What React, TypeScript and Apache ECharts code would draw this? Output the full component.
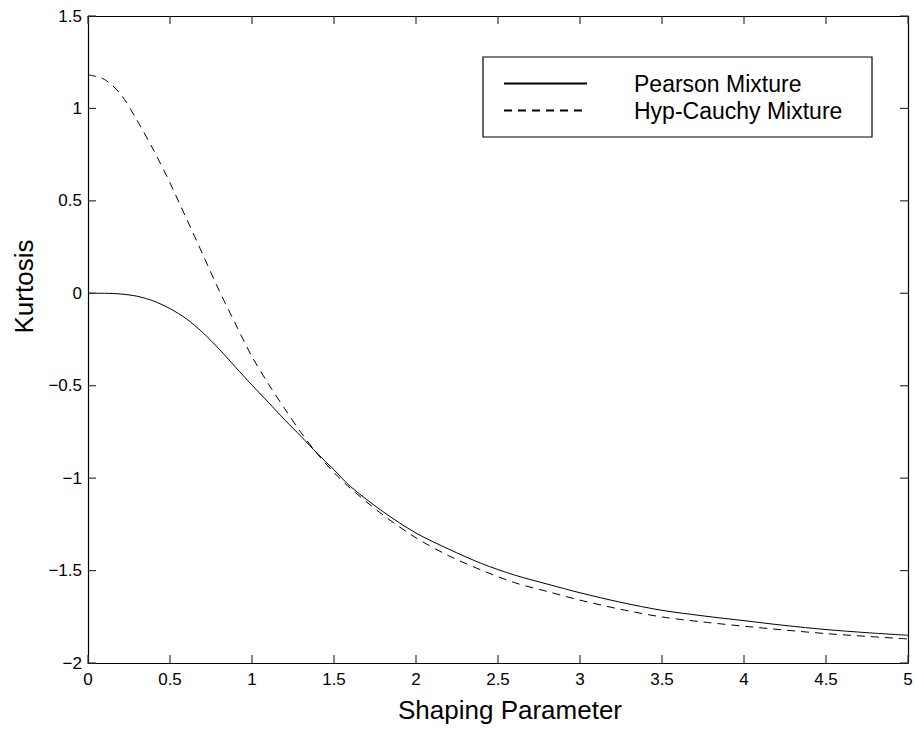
import React, { useEffect, useRef } from "react";
import * as echarts from "echarts";

const xValues = [0, 0.1, 0.2, 0.3, 0.4, 0.5, 0.6, 0.7, 0.8, 0.9, 1.0, 1.1, 1.2, 1.3, 1.4, 1.5, 1.6, 1.8, 2.0, 2.2, 2.4, 2.6, 2.8, 3.0, 3.25, 3.5, 3.75, 4.0, 4.25, 4.5, 4.75, 5.0];
const pearsonValues = [0, 0, -0.004, -0.016, -0.042, -0.083, -0.138, -0.213, -0.302, -0.4, -0.497, -0.59, -0.685, -0.775, -0.868, -0.955, -1.045, -1.182, -1.297, -1.384, -1.462, -1.524, -1.573, -1.62, -1.672, -1.715, -1.745, -1.771, -1.797, -1.819, -1.836, -1.85];
const hypCauchyValues = [1.182, 1.157, 1.076, 0.934, 0.774, 0.597, 0.405, 0.21, 0.014, -0.167, -0.343, -0.49, -0.625, -0.755, -0.87, -0.97, -1.055, -1.2, -1.323, -1.42, -1.498, -1.565, -1.613, -1.66, -1.71, -1.751, -1.778, -1.801, -1.822, -1.841, -1.856, -1.87];
const xTicks = [0, 0.5, 1, 1.5, 2, 2.5, 3, 3.5, 4, 4.5, 5];
const yTicks = [-2, -1.5, -1, -0.5, 0, 0.5, 1, 1.5];
const seriesNames = ["Pearson Mixture", "Hyp-Cauchy Mixture"];
const xAxisTitle = "Shaping Parameter";
const yAxisTitle = "Kurtosis";

const X_MIN = 0, X_MAX = 5, Y_MIN = -2, Y_MAX = 1.5;
const TICK_LEN = 8;
const FONT = "'Liberation Sans', Arial, Helvetica, sans-serif";

const fmt = (v: number) => String(v).replace("-", "\u2212");

const lineAxis = () => ({ show: true, onZero: false, lineStyle: { color: "#000", width: 1.2 } });
const tickLine = (x1: number, y1: number, x2: number, y2: number) => ({
  type: "line",
  shape: { x1, y1, x2, y2 },
  style: { stroke: "#333", lineWidth: 1.2 },
});

export default function App() {
  const ref = useRef<HTMLDivElement>(null);
  useEffect(() => {
    if (!ref.current) return;
    const chart = echarts.init(ref.current, undefined, { renderer: "svg" });
    chart.setOption({
      animation: false,
      backgroundColor: "#fff",
      textStyle: { fontFamily: FONT },
      grid: { left: 88, right: 8, top: 16, bottom: 66, containLabel: false },
      legend: {
        orient: "vertical",
        left: 503,
        top: 72,
        padding: 0,
        itemGap: 4,
        itemWidth: 83,
        itemHeight: 14,
        data: seriesNames,
        itemStyle: { opacity: 0 },
        textStyle: { fontSize: 23, color: "#000", fontFamily: FONT, padding: [0, 0, 0, 42] },
      },
      graphic: [
        {
          type: "rect",
          z: 1,
          shape: { x: 483, y: 57, width: 389, height: 80 },
          style: { fill: "#fff", stroke: "#000", lineWidth: 1.2 },
        },
      ],
      xAxis: [
        {
          type: "value",
          min: X_MIN,
          max: X_MAX,
          interval: 0.5,
          position: "bottom",
          name: xAxisTitle,
          nameLocation: "middle",
          nameGap: 34,
          nameTextStyle: { fontSize: 26, color: "#000", fontFamily: FONT, padding: [0, 0, 0, 24] },
          axisLine: lineAxis(),
          axisTick: { show: false },
          splitLine: { show: false },
          axisLabel: { fontSize: 17, color: "#000", margin: 8, formatter: fmt, fontFamily: FONT },
        },
        {
          type: "value",
          min: X_MIN,
          max: X_MAX,
          interval: 0.5,
          position: "top",
          axisLine: lineAxis(),
          axisTick: { show: false },
          splitLine: { show: false },
          axisLabel: { show: false },
        },
      ],
      yAxis: [
        {
          type: "value",
          min: Y_MIN,
          max: Y_MAX,
          interval: 0.5,
          position: "left",
          name: yAxisTitle,
          nameLocation: "middle",
          nameGap: 51,
          nameTextStyle: { fontSize: 26, color: "#000", fontFamily: FONT, padding: [0, 0, 0, 106] },
          axisLine: lineAxis(),
          axisTick: { show: false },
          splitLine: { show: false },
          axisLabel: { fontSize: 17, color: "#000", margin: 6, formatter: fmt, fontFamily: FONT },
        },
        {
          type: "value",
          min: Y_MIN,
          max: Y_MAX,
          interval: 0.5,
          position: "right",
          axisLine: lineAxis(),
          axisTick: { show: false },
          splitLine: { show: false },
          axisLabel: { show: false },
        },
      ],
      series: [
        {
          name: "xTicks",
          type: "custom",
          silent: true,
          clip: false,
          z: 5,
          data: xTicks.map((v) => [v, Y_MIN]),
          renderItem: (params: any, api: any) => {
            const b = api.coord([api.value(0), Y_MIN]);
            const t = api.coord([api.value(0), Y_MAX]);
            return {
              type: "group",
              children: [
                tickLine(b[0], b[1], b[0], b[1] - TICK_LEN),
                tickLine(t[0], t[1], t[0], t[1] + TICK_LEN),
              ],
            };
          },
        },
        {
          name: "yTicks",
          type: "custom",
          silent: true,
          clip: false,
          z: 5,
          data: yTicks.map((v) => [X_MIN, v]),
          renderItem: (params: any, api: any) => {
            const l = api.coord([X_MIN, api.value(1)]);
            const r = api.coord([X_MAX, api.value(1)]);
            return {
              type: "group",
              children: [
                tickLine(l[0], l[1], l[0] + TICK_LEN, l[1]),
                tickLine(r[0], r[1], r[0] - TICK_LEN, r[1]),
              ],
            };
          },
        },
        {
          name: seriesNames[0],
          type: "line",
          data: xValues.map((x, i) => [x, pearsonValues[i]]),
          showSymbol: false,
          symbol: "none",
          smooth: 0.3,
          lineStyle: { color: "#000", width: 1, type: "solid" },
          itemStyle: { color: "#000" },
          z: 3,
        },
        {
          name: seriesNames[1],
          type: "line",
          data: xValues.map((x, i) => [x, hypCauchyValues[i]]),
          showSymbol: false,
          symbol: "none",
          smooth: 0.3,
          lineStyle: { color: "#000", width: 1, type: [8, 6] },
          itemStyle: { color: "#000" },
          z: 3,
        },
      ],
    });
    return () => chart.dispose();
  }, []);
  return (
    <div
      ref={ref}
      style={{ position: "fixed", left: 0, top: 0, width: 916, height: 729, background: "#fff" }}
    />
  );
}
